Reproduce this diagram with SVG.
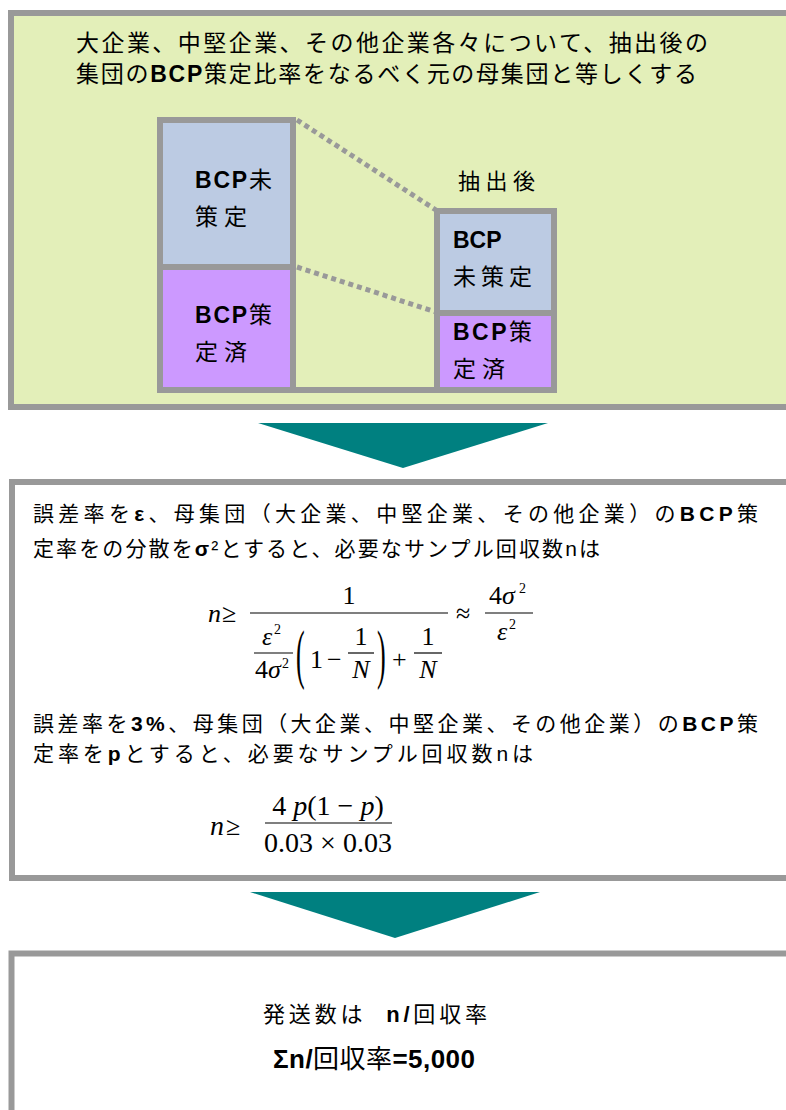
<svg xmlns="http://www.w3.org/2000/svg" width="786" height="1110" viewBox="0 0 786 1110">
<style>
.jp{font-family:"Liberation Sans","Noto Sans CJK JP",sans-serif;fill:#000}
.b{font-weight:bold}
.m{font-family:"Liberation Serif",serif;fill:#000}
.i{font-style:italic}
.panel{stroke:#999;stroke-width:6}
.bar{fill:#999}
.blue{fill:#bccbe3}
.purple{fill:#cc99ff}
.dots{stroke:#999;stroke-width:5;stroke-dasharray:5 4;fill:none}
.arrow{fill:#008080}
.fl{stroke:#000;stroke-width:1.2}
</style>
<rect width="786" height="1110" fill="#fff"/>

<g id="panel-top">
  <rect class="panel" x="11" y="13" width="820" height="394" fill="#e3efb9"/>
  <text class="jp" x="76" y="51" font-size="23" textLength="632" lengthAdjust="spacing">大企業、中堅企業、その他企業各々について、抽出後の</text>
  <text class="jp" x="76" y="82" font-size="23" textLength="621" lengthAdjust="spacing">集団の<tspan class="b">BCP</tspan>策定比率をなるべく元の母集団と等しくする</text>
</g>

<g id="bar-original">
  <rect class="bar" x="157" y="117" width="139" height="276"/>
  <rect class="blue" x="163" y="123" width="127" height="141"/>
  <rect class="purple" x="163" y="270" width="127" height="117"/>
  <text class="jp" x="195" y="188" font-size="23" textLength="77" lengthAdjust="spacing"><tspan class="b">BCP</tspan>未</text>
  <text class="jp" x="195" y="225" font-size="23" textLength="52" lengthAdjust="spacing">策定</text>
  <text class="jp" x="195" y="323" font-size="23" textLength="77" lengthAdjust="spacing"><tspan class="b">BCP</tspan>策</text>
  <text class="jp" x="195" y="360" font-size="23" textLength="52" lengthAdjust="spacing">定済</text>
</g>

<g id="bar-extracted">
  <rect class="bar" x="296" y="387" width="140" height="6"/>
  <rect class="bar" x="434" y="208" width="123" height="185"/>
  <rect class="blue" x="440" y="214" width="111" height="96"/>
  <rect class="purple" x="440" y="316" width="111" height="71"/>
  <text class="jp" x="458" y="189" font-size="22" fill="#222" textLength="77" lengthAdjust="spacing">抽出後</text>
  <text class="jp b" x="453" y="248" font-size="23">BCP</text>
  <text class="jp" x="453" y="285" font-size="23" textLength="79" lengthAdjust="spacing">未策定</text>
  <text class="jp" x="453" y="340" font-size="23" textLength="79" lengthAdjust="spacing"><tspan class="b">BCP</tspan>策</text>
  <text class="jp" x="453" y="377" font-size="23" textLength="52" lengthAdjust="spacing">定済</text>
</g>

<g id="connectors">
  <line class="dots" x1="297" y1="120" x2="436" y2="210"/>
  <line class="dots" x1="297" y1="267" x2="436" y2="312"/>
  <polygon class="arrow" points="258,423 548,423 403,468"/>
  <polygon class="arrow" points="250,892 540,892 395,938"/>
</g>

<g id="panel-middle">
  <rect class="panel" x="12" y="482" width="820" height="396" fill="#fff"/>
  <text class="jp" x="33" y="521" font-size="21" textLength="725" lengthAdjust="spacing">誤差率を<tspan class="b">ε</tspan>、母集団（大企業、中堅企業、その他企業）の<tspan class="b">BCP</tspan>策</text>
  <text class="jp" x="33" y="556" font-size="21" textLength="567" lengthAdjust="spacing">定率をの分散を<tspan class="b">σ</tspan>²とすると、必要なサンプル回収数nは</text>

  <g id="formula1" class="m" font-size="26">
    <text x="208" y="622" class="m i">n</text>
    <text x="222" y="622" class="m">≥</text>
    <line class="fl" x1="250" y1="613" x2="448" y2="613"/>
    <text x="349" y="604" text-anchor="middle">1</text>
    <line class="fl" x1="254" y1="653" x2="293" y2="653" stroke-width="1"/>
    <text x="262" y="645" class="m i">ε</text>
    <text x="274" y="634" font-size="14">2</text>
    <text x="255" y="678">4<tspan class="i">σ</tspan></text>
    <text x="282" y="668" font-size="14">2</text>
    <text transform="translate(296,676) scale(1,2.5)">(</text>
    <text x="310" y="668">1</text>
    <text x="327" y="668">−</text>
    <line class="fl" x1="348" y1="653" x2="374" y2="653" stroke-width="1"/>
    <text x="361" y="645" text-anchor="middle">1</text>
    <text x="361" y="678" text-anchor="middle" class="m i">N</text>
    <text transform="translate(377,676) scale(1,2.5)">)</text>
    <text x="392" y="668">+</text>
    <line class="fl" x1="414" y1="653" x2="442" y2="653" stroke-width="1"/>
    <text x="428" y="645" text-anchor="middle">1</text>
    <text x="428" y="678" text-anchor="middle" class="m i">N</text>
    <text x="456" y="622">≈</text>
    <line class="fl" x1="485" y1="613" x2="533" y2="613"/>
    <text x="489" y="604">4<tspan class="i">σ</tspan></text>
    <text x="519" y="593" font-size="14">2</text>
    <text x="497" y="640" class="m i">ε</text>
    <text x="509" y="629" font-size="14">2</text>
  </g>

  <text class="jp" x="33" y="731" font-size="21" textLength="725" lengthAdjust="spacing">誤差率を<tspan class="b">3%</tspan>、母集団（大企業、中堅企業、その他企業）の<tspan class="b">BCP</tspan>策</text>
  <text class="jp" x="33" y="761" font-size="21" textLength="500" lengthAdjust="spacing">定率を<tspan class="b">p</tspan>とすると、必要なサンプル回収数nは</text>

  <g id="formula2" class="m" font-size="28">
    <text x="210" y="835" class="m i">n</text>
    <text x="226" y="835" font-size="26">≥</text>
    <line class="fl" x1="265" y1="823" x2="392" y2="823"/>
    <text x="328" y="815" text-anchor="middle">4 <tspan class="i">p</tspan>(1 − <tspan class="i">p</tspan>)</text>
    <text x="328" y="852" text-anchor="middle">0.03 × 0.03</text>
  </g>
</g>

<g id="panel-bottom">
  <rect class="panel" x="11.5" y="953.5" width="820" height="200" fill="#fff" stroke-width="7"/>
  <text class="jp" x="263" y="1022" font-size="22" textLength="224" lengthAdjust="spacing" xml:space="preserve">発送数は  <tspan class="b">n/</tspan>回収率</text>
  <text class="jp" x="273" y="1068" font-size="26" textLength="202" lengthAdjust="spacing"><tspan class="b">Σn/</tspan>回収率<tspan class="b">=5,000</tspan></text>
</g>
</svg>
